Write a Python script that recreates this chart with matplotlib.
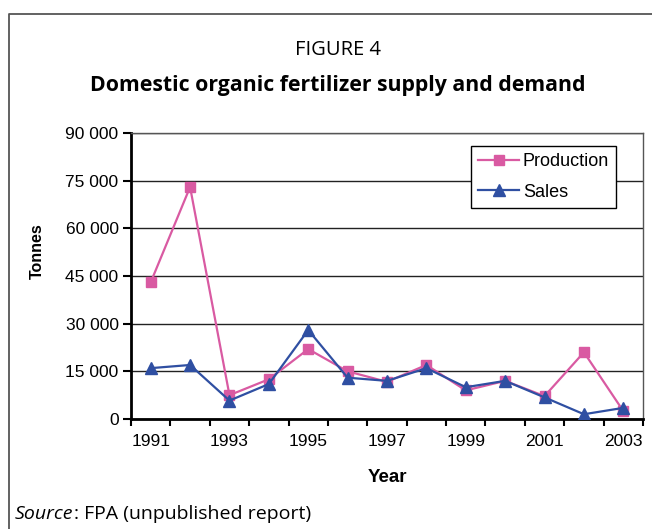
import matplotlib
matplotlib.use("Agg")
import matplotlib.pyplot as plt
from matplotlib.lines import Line2D
from matplotlib.ticker import FuncFormatter

years = list(range(1991, 2004))
production = [43000, 73000, 7500, 12500, 22000, 15000, 11700, 17000, 9000, 12000, 7200, 21000, 2500]
sales = [16000, 17000, 5800, 11000, 28000, 13000, 12000, 16000, 10000, 12000, 6800, 1500, 3500]
year_labels = [str(y) if (y - 1991) % 2 == 0 else "" for y in years]

PINK = "#D95AA2"
BLUE = "#2F4FA2"
SANS = ["Liberation Sans", "DejaVu Sans"]
HUMANIST = ["Open Sans", "DejaVu Sans"]

W, H = 652, 529
fig = plt.figure(figsize=(W / 100, H / 100), dpi=100)
ax = fig.add_axes([131 / W, 1 - 419 / H, 512 / W, 286 / H])

x = list(range(len(years)))
ax.plot(x, production, color=PINK, lw=1.6, marker="s", ms=7,
        mec=PINK, mfc=PINK, label="Production", zorder=3)
ax.plot(x, sales, color=BLUE, lw=1.6, marker="^", ms=8,
        mec=BLUE, mfc=BLUE, label="Sales", zorder=4)

ax.set_xlim(-0.5, len(years) - 0.5)
ax.set_ylim(0, 90000)
ax.set_yticks(range(0, 90001, 15000))
ax.yaxis.set_major_formatter(FuncFormatter(lambda v, p: f"{int(v):,}".replace(",", " ")))

# category axis: ticks on boundaries, labels at centres
ax.set_xticks([i - 0.5 for i in range(len(years) + 1)])
ax.set_xticklabels([])
ax.set_xticks(x, minor=True)
ax.set_xticklabels(year_labels, minor=True)
ax.tick_params(axis="x", which="minor", length=0, pad=11)
ax.tick_params(axis="x", which="major", length=5, width=1.5, direction="out")
ax.tick_params(axis="y", length=6, width=1.5, direction="out", pad=3)
for lab in ax.get_xticklabels(minor=True) + ax.get_yticklabels():
    lab.set_fontfamily(SANS)
    lab.set_fontsize(12.5)

ax.grid(axis="y", color="#222222", lw=1.0)
ax.set_axisbelow(True)
for side in ("left", "bottom"):
    ax.spines[side].set_linewidth(2.0)
    ax.spines[side].set_color("black")
for side in ("top", "right"):
    ax.spines[side].set_linewidth(1.0)
    ax.spines[side].set_color("#555555")

ax.set_xlabel("Year", fontfamily=SANS, fontsize=13.5, fontweight="bold", va="center")
ax.xaxis.set_label_coords((387.5 - 131) / 512, (419 - 478) / 286)
ax.set_ylabel("Tonnes", fontfamily=SANS, fontsize=11.5, fontweight="bold", va="center")
ax.yaxis.set_label_coords((37.5 - 131) / 512, (419 - 251) / 286)

leg = ax.legend(loc="upper right", bbox_to_anchor=(0.948, 0.955), frameon=True,
                fancybox=False, edgecolor="black", framealpha=1,
                prop={"family": SANS, "size": 13}, handlelength=2.3,
                borderpad=0.4, labelspacing=0.75, handletextpad=0.2,
                borderaxespad=0.0)
leg.get_frame().set_linewidth(1.0)

fig.text(338 / W, 1 - 50 / H, "FIGURE 4", ha="center", va="center",
         fontfamily=HUMANIST, fontsize=14.5)
fig.text(338 / W, 1 - 85 / H, "Domestic organic fertilizer supply and demand",
         ha="center", va="center", fontfamily=HUMANIST, fontsize=15.3, fontweight="bold")

# source note: italic word followed by plain text
src = fig.text(15 / W, 1 - 514 / H, "Source", ha="left", va="center",
               fontfamily=HUMANIST, fontsize=14, style="italic")
fig.canvas.draw()
bb = src.get_window_extent(renderer=fig.canvas.get_renderer())
fig.text(bb.x1 / fig.bbox.width, 1 - 514 / H, ": FPA (unpublished report)",
         ha="left", va="center", fontfamily=HUMANIST, fontsize=14)

# outer frame (top and left edges within the figure)
fig.add_artist(Line2D([8.5 / W, 8.5 / W, 1.0], [0.0, 1 - 13.5 / H, 1 - 13.5 / H],
                      transform=fig.transFigure, color="#555555", lw=1.3))

fig.savefig("out.png", dpi=100)
